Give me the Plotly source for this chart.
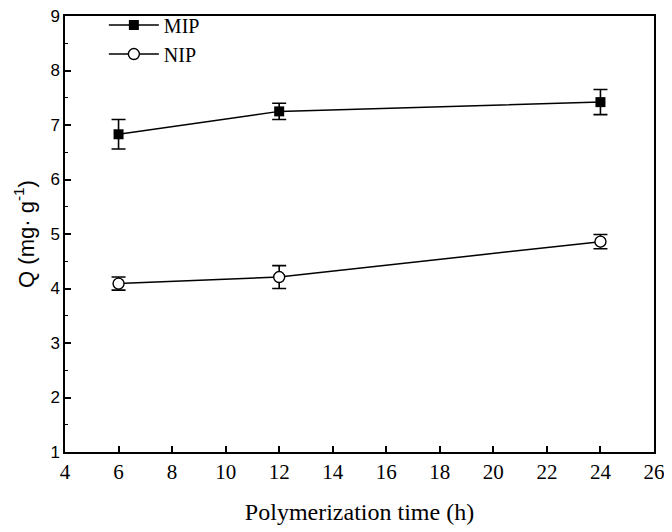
import plotly.graph_objects as go

time_h = [6, 12, 24]
mip_q = [6.83, 7.25, 7.42]
mip_err = [0.27, 0.15, 0.23]
nip_q = [4.09, 4.21, 4.86]
nip_err = [0.12, 0.21, 0.13]

x_ticks = [4, 6, 8, 10, 12, 14, 16, 18, 20, 22, 24, 26]
y_ticks = [1, 2, 3, 4, 5, 6, 7, 8, 9]

serif = "Liberation Serif, Times New Roman, serif"
sans = "Liberation Sans, Arial, sans-serif"

fig = go.Figure()
fig.add_trace(go.Scatter(
    x=time_h, y=mip_q, name="MIP", mode="lines+markers",
    line=dict(color="black", width=1.5),
    marker=dict(symbol="square", size=10, color="black"),
    error_y=dict(type="data", array=mip_err, visible=True, color="black", thickness=1.6, width=7),
))
fig.add_trace(go.Scatter(
    x=time_h, y=nip_q, name="NIP", mode="lines+markers",
    line=dict(color="black", width=1.5),
    marker=dict(symbol="circle", size=11, color="white", line=dict(color="black", width=1.4)),
    error_y=dict(type="data", array=nip_err, visible=True, color="black", thickness=1.6, width=7),
))

# page body adds an 8px offset; the figure is sized so the whole page fits 672x532
fig.update_layout(
    width=664, height=524,
    margin=dict(l=57, r=18, t=8, b=80, autoexpand=False),
    paper_bgcolor="white", plot_bgcolor="white",
    showlegend=True,
    legend=dict(x=0.066, y=1.024, xanchor="left", yanchor="top",
                font=dict(family=serif, size=20, color="black"),
                bgcolor="rgba(0,0,0,0)", tracegroupgap=0, itemwidth=50),
    font=dict(family=serif, color="black"),
)
fig.update_xaxes(
    range=[4, 26], tickvals=x_ticks, ticktext=[str(v) for v in x_ticks],
    showline=True, linecolor="black", linewidth=1.5, mirror=True,
    ticks="inside", ticklen=6, tickwidth=1.5, tickcolor="black",
    showgrid=False, zeroline=False, automargin=False, ticklabeloverflow="allow",
    tickfont=dict(family=serif, size=21, color="black"),
    title=dict(text="Polymerization time (h)", font=dict(family=serif, size=24, color="black"), standoff=20),
)
fig.update_yaxes(
    range=[1, 9], tickvals=y_ticks, ticktext=[str(v) for v in y_ticks],
    showline=True, linecolor="black", linewidth=1.5, mirror=True,
    ticks="inside", ticklen=6, tickwidth=1.5, tickcolor="black",
    minor=dict(dtick=0.5, ticks="inside", ticklen=3, tickwidth=1.2, tickcolor="black", showgrid=False),
    showgrid=False, zeroline=False, automargin=False, ticklabeloverflow="allow",
    tickfont=dict(family=sans, size=17, color="black"),
    title=dict(text="Q (mg· g<sup>-1</sup>)", font=dict(family=sans, size=22, color="black"), standoff=10),
)

fig.write_html("out.html")
